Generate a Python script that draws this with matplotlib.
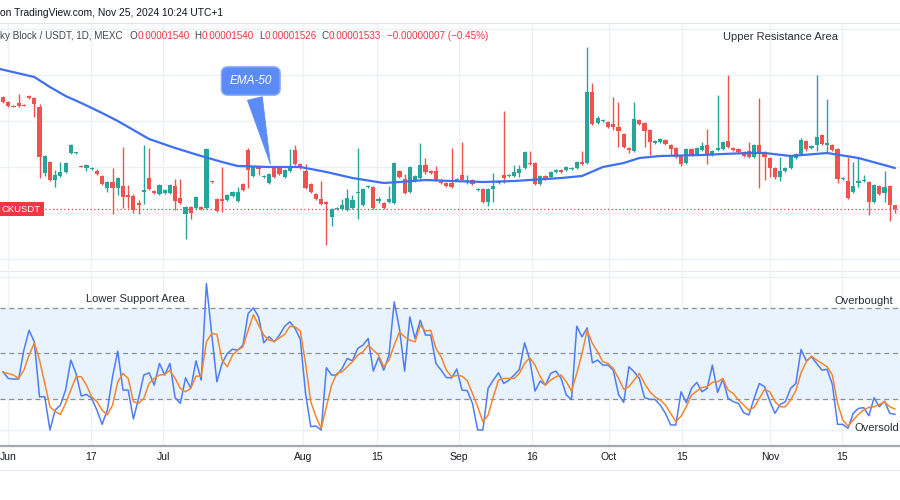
import matplotlib
matplotlib.use("Agg")
import matplotlib.pyplot as plt
import matplotlib.transforms as mtransforms
import numpy as np

plt.rcParams['font.family'] = ['Liberation Sans', 'DejaVu Sans']

# ---------------- data (prices in units of 1e-8 USDT) ----------------
PRICE_UNIT = 1e-8
opens = [1757, 1747, 1740, 1745, 1742, 1759, 1755, 1737, 1605, 1627,
         1591, 1599, 1607, 1645, 1644, 1619, 1615, 1613, 1609, 1599,
         1575, 1587, 1575, 1579, 1561, 1559, 1545, 1567, 1595, 1569,
         1563, 1565, 1565, 1579, 1555, 1523, 1537, 1535, 1537, 1535,
         1589, 1553, 1553, 1551, 1559, 1549, 1583, 1651, 1599, 1617,
         1597, 1585, 1615, 1615, 1597, 1609, 1651, 1623, 1609, 1583,
         1563, 1553, 1547, 1517, 1533, 1533, 1531, 1535, 1565, 1541,
         1577, 1577, 1549, 1545, 1547, 1545, 1609, 1593, 1567, 1589,
         1595, 1621, 1609, 1609, 1591, 1585, 1585, 1591, 1601, 1589,
         1591, 1571, 1573, 1547, 1573, 1585, 1601, 1599, 1599, 1605,
         1615, 1625, 1625, 1583, 1599, 1597, 1607, 1611, 1611, 1613,
         1615, 1627, 1625, 1767, 1705, 1709, 1707, 1703, 1697, 1683,
         1655, 1649, 1711, 1705, 1691, 1665, 1667, 1671, 1661, 1655,
         1639, 1625, 1653, 1643, 1651, 1661, 1641, 1651, 1653, 1669,
         1655, 1653, 1647, 1649, 1637, 1661, 1643, 1635, 1615, 1597,
         1609, 1615, 1635, 1643, 1669, 1655, 1661, 1681, 1661, 1661,
         1653, 1593, 1589, 1567, 1585, 1589, 1587, 1547, 1579, 1565,
         1579, 1540]
highs = [1759, 1749, 1741, 1763, 1743, 1761, 1757, 1743, 1641, 1629,
         1611, 1627, 1627, 1663, 1647, 1621, 1623, 1617, 1613, 1601,
         1589, 1615, 1597, 1657, 1581, 1563, 1551, 1661, 1655, 1571,
         1583, 1573, 1583, 1593, 1593, 1539, 1539, 1559, 1539, 1655,
         1590, 1555, 1617, 1563, 1569, 1577, 1585, 1655, 1619, 1619,
         1601, 1605, 1617, 1617, 1613, 1653, 1661, 1625, 1623, 1585,
         1565, 1589, 1549, 1535, 1537, 1553, 1573, 1561, 1655, 1575,
         1581, 1579, 1557, 1547, 1579, 1627, 1611, 1603, 1619, 1601,
         1665, 1635, 1611, 1619, 1593, 1587, 1655, 1595, 1667, 1601,
         1593, 1575, 1575, 1575, 1605, 1589, 1729, 1603, 1621, 1621,
         1649, 1649, 1627, 1601, 1601, 1609, 1613, 1613, 1619, 1617,
         1629, 1649, 1857, 1785, 1719, 1713, 1709, 1757, 1747, 1685,
         1657, 1747, 1713, 1707, 1693, 1671, 1675, 1673, 1663, 1657,
         1641, 1655, 1655, 1657, 1667, 1693, 1651, 1761, 1669, 1801,
         1657, 1655, 1649, 1667, 1663, 1755, 1649, 1637, 1617, 1637,
         1617, 1639, 1645, 1675, 1671, 1661, 1801, 1683, 1753, 1663,
         1655, 1597, 1637, 1627, 1637, 1601, 1589, 1583, 1581, 1609,
         1581, 1540]
lows = [1745, 1737, 1737, 1737, 1739, 1753, 1717, 1595, 1599, 1589,
        1577, 1597, 1605, 1643, 1643, 1616, 1609, 1611, 1601, 1581,
        1567, 1523, 1561, 1535, 1535, 1525, 1523, 1543, 1571, 1563,
        1561, 1563, 1563, 1531, 1543, 1473, 1513, 1533, 1531, 1533,
        1585, 1527, 1527, 1549, 1557, 1547, 1569, 1575, 1597, 1601,
        1595, 1583, 1595, 1601, 1595, 1607, 1621, 1613, 1573, 1565,
        1551, 1541, 1461, 1499, 1531, 1531, 1529, 1533, 1513, 1539,
        1575, 1533, 1545, 1533, 1545, 1543, 1595, 1563, 1565, 1587,
        1593, 1603, 1603, 1589, 1583, 1577, 1575, 1589, 1589, 1583,
        1581, 1569, 1545, 1539, 1547, 1583, 1585, 1597, 1597, 1597,
        1613, 1621, 1581, 1581, 1591, 1595, 1605, 1605, 1609, 1611,
        1613, 1621, 1623, 1701, 1703, 1707, 1695, 1691, 1657, 1655,
        1645, 1647, 1701, 1657, 1641, 1663, 1665, 1661, 1641, 1635,
        1619, 1623, 1639, 1641, 1649, 1623, 1639, 1649, 1651, 1655,
        1649, 1645, 1637, 1635, 1635, 1575, 1591, 1597, 1593, 1589,
        1607, 1613, 1633, 1641, 1649, 1653, 1649, 1661, 1647, 1649,
        1585, 1591, 1553, 1565, 1577, 1587, 1521, 1545, 1561, 1547,
        1509, 1526]
closes = [1747, 1739, 1738, 1739, 1740, 1755, 1743, 1637, 1639, 1591,
          1601, 1607, 1625, 1661, 1646, 1617, 1621, 1615, 1603, 1583,
          1587, 1575, 1595, 1557, 1557, 1531, 1541, 1571, 1573, 1565,
          1581, 1571, 1581, 1549, 1545, 1537, 1525, 1557, 1533, 1653,
          1587, 1529, 1549, 1561, 1567, 1567, 1571, 1611, 1617, 1613,
          1599, 1603, 1597, 1603, 1611, 1615, 1623, 1615, 1575, 1567,
          1553, 1543, 1543, 1533, 1535, 1541, 1555, 1551, 1567, 1573,
          1579, 1535, 1553, 1535, 1553, 1625, 1597, 1565, 1617, 1599,
          1621, 1607, 1605, 1591, 1585, 1579, 1577, 1593, 1591, 1591,
          1583, 1573, 1547, 1573, 1579, 1587, 1595, 1601, 1607, 1613,
          1647, 1623, 1583, 1599, 1593, 1607, 1611, 1607, 1617, 1615,
          1627, 1623, 1767, 1703, 1715, 1711, 1697, 1697, 1689, 1657,
          1651, 1713, 1703, 1689, 1667, 1669, 1673, 1663, 1653, 1637,
          1623, 1653, 1641, 1655, 1659, 1641, 1649, 1655, 1667, 1657,
          1651, 1647, 1639, 1637, 1661, 1643, 1637, 1615, 1597, 1609,
          1615, 1637, 1643, 1671, 1653, 1659, 1677, 1663, 1665, 1651,
          1593, 1595, 1555, 1579, 1589, 1591, 1547, 1581, 1563, 1577,
          1540, 1533]

ema_bars = [-0.6, 6, 9, 12, 15, 19, 22, 25, 28, 33, 38, 42, 45, 51, 57, 62, 67,
            73, 76, 81, 86, 92, 98, 107, 111, 115, 119, 122, 126, 134, 138,
            143, 146, 151, 158, 164, 171]
ema_vals = [1813, 1797, 1777, 1759, 1745, 1725, 1709, 1691, 1673, 1655, 1639,
            1627, 1619, 1617, 1617, 1607, 1595, 1585, 1587, 1591, 1589, 1587,
            1589, 1595, 1599, 1617, 1625, 1635, 1639, 1641, 1643, 1645, 1645,
            1639, 1645, 1635, 1615]

stoch_k = [38.0, 33.7, 33.3, 33.3, 52.2, 65.2, 57.6, 21.7, 21.7, 0.0,
           13.0, 16.3, 26.1, 45.7, 37.0, 22.2, 23.3, 20.7, 13.0, 3.7,
           13.0, 34.8, 51.5, 26.1, 26.1, 7.2, 20.7, 35.9, 37.4, 29.3,
           43.5, 35.9, 43.5, 21.1, 17.4, 34.1, 27.2, 45.2, 32.6, 95.7,
           63.0, 31.5, 43.5, 50.0, 52.8, 52.2, 55.4, 76.1, 79.8, 73.9,
           57.0, 60.9, 57.6, 62.0, 67.8, 70.7, 66.3, 59.3, 23.9, 2.2,
           2.6, 0.0, 40.7, 35.9, 35.9, 40.2, 46.7, 45.2, 53.3, 55.4,
           59.8, 38.5, 47.4, 39.1, 48.9, 83.7, 66.3, 38.5, 73.9, 59.8,
           71.7, 62.0, 62.0, 43.5, 39.1, 34.3, 34.0, 39.8, 26.1, 25.7,
           17.4, 0.0, 0.0, 27.2, 32.6, 37.4, 30.4, 32.6, 35.9, 39.6,
           57.0, 45.7, 25.4, 32.0, 29.3, 37.0, 38.5, 33.7, 22.8, 20.0,
           67.8, 60.9, 66.7, 43.9, 45.7, 42.4, 42.4, 39.1, 23.3, 18.0,
           41.3, 38.0, 33.7, 21.1, 20.0, 20.0, 16.3, 10.9, 3.3, 3.3,
           25.0, 17.8, 27.2, 31.1, 25.0, 27.2, 42.4, 24.6, 33.3, 20.7,
           18.5, 17.4, 11.3, 9.8, 20.7, 30.4, 28.3, 18.9, 10.9, 16.7,
           18.5, 27.2, 30.4, 52.6, 45.2, 47.8, 43.5, 39.1, 39.6, 29.8,
           3.7, 3.7, 1.1, 10.9, 14.1, 14.6, 9.3, 21.1, 15.2, 18.9,
           10.9, 10.2]
stoch_d = [37.6, 37.0, 35.9, 33.7, 39.1, 48.9, 57.0, 45.7, 30.4, 15.2,
           12.0, 10.2, 17.4, 26.1, 34.8, 34.8, 29.3, 21.7, 18.5, 13.0,
           9.8, 16.3, 31.5, 37.0, 33.7, 18.5, 17.4, 20.7, 30.4, 33.7,
           35.9, 36.3, 39.1, 33.7, 27.2, 25.0, 27.2, 35.2, 35.2, 57.6,
           63.0, 62.6, 45.7, 41.3, 48.9, 52.2, 54.3, 65.2, 75.4, 68.5,
           62.0, 58.7, 58.0, 60.2, 62.4, 67.8, 67.4, 64.8, 43.5, 18.5,
           8.7, 1.1, 15.2, 29.3, 37.0, 38.0, 41.3, 44.6, 48.9, 51.1,
           55.4, 52.2, 48.9, 41.3, 45.7, 55.4, 64.1, 60.9, 58.7, 57.6,
           68.5, 64.6, 65.2, 53.3, 47.8, 39.1, 34.8, 35.7, 35.2, 32.2,
           23.9, 15.2, 5.4, 9.8, 21.7, 32.6, 33.7, 33.7, 33.7, 37.0,
           43.5, 47.2, 42.4, 34.8, 29.3, 32.6, 34.8, 35.9, 31.5, 25.4,
           37.0, 50.0, 65.2, 56.5, 51.1, 44.6, 43.5, 40.2, 33.7, 26.7,
           28.3, 32.6, 37.0, 30.4, 25.0, 21.7, 19.6, 16.3, 10.9, 5.4,
           9.1, 15.2, 22.8, 25.4, 27.8, 28.3, 31.1, 31.5, 33.7, 26.1,
           23.9, 19.6, 16.3, 13.0, 14.8, 20.7, 26.5, 25.0, 18.5, 15.2,
           15.2, 19.6, 25.7, 37.4, 44.6, 48.3, 45.7, 43.5, 41.3, 35.9,
           17.4, 6.5, 2.6, 6.5, 10.2, 13.0, 14.8, 15.2, 16.7, 18.5,
           15.2, 13.7]

tick_labels = ["Jun", "17", "Jul", "Aug", "15", "Sep", "16", "Oct", "15", "Nov", "15"]
tick_bars = [1.0, 16.9, 30.7, 57.6, 71.7, 87.4, 101.4, 116.2, 130.2, 147.1, 160.9]
price_grid = [1433, 1525, 1617, 1709, 1801, 1893]
stoch_levels = [80, 50, 20]

# ---------------- figure ----------------
W, H = 900, 500
fig = plt.figure(figsize=(9, 5), dpi=100)
fig.patch.set_facecolor('white')
ax1 = fig.add_axes([0, 230 / H, 1, 247 / H])
ax2 = fig.add_axes([0, 54 / H, 1, 175 / H])

n = len(opens)
bars = np.arange(n)
o = np.array(opens) * PRICE_UNIT
hh = np.array(highs) * PRICE_UNIT
ll = np.array(lows) * PRICE_UNIT
c = np.array(closes) * PRICE_UNIT

UP, DN = '#26a69a', '#ef5350'
cols = [UP if cc >= oo else DN for oo, cc in zip(o, c)]
grid_col = '#edf0f5'

for ax in (ax1, ax2):
    ax.set_xlim(-0.575, 171.97)
    for s in ax.spines.values():
        s.set_visible(False)
    ax.set_xticks(tick_bars)
    ax.grid(True, color=grid_col, lw=1, zorder=0)
    ax.set_axisbelow(True)
    ax.tick_params(length=0)
    ax.set_yticklabels([])

# price panel
ax1.set_ylim(1411 * PRICE_UNIT, 1905 * PRICE_UNIT)
ax1.set_yticks(np.array(price_grid) * PRICE_UNIT)
ax1.set_xticklabels([])
ax1.vlines(bars, ll, hh, colors=cols, lw=1.0, zorder=3)
body_bottom = np.minimum(o, c)
body_h = np.maximum(np.abs(c - o), 1.6 * PRICE_UNIT)
ax1.bar(bars, body_h, bottom=body_bottom, width=0.8, color=cols, lw=0, zorder=4)
ax1.plot(ema_bars, np.array(ema_vals) * PRICE_UNIT, color='#3f6ff2', lw=1.6,
         zorder=5, solid_capstyle='round')
ax1.axhline(closes[-1] * PRICE_UNIT, color='#f23645', lw=0.9, ls=(0, (1, 2)), zorder=2)

trans = mtransforms.blended_transform_factory(ax1.transAxes, ax1.transData)
ax1.text(2.0 / W, closes[-1] * PRICE_UNIT, "CKUSDT", transform=trans, ha='left',
         va='center', color='white', fontsize=6.8, zorder=10,
         bbox=dict(boxstyle='square,pad=0.3', fc='#f23645', ec='none'))

ax1.annotate("EMA-50", xy=(51.4, 1617 * PRICE_UNIT), xytext=(47.5, 1789 * PRICE_UNIT),
             ha='center', va='center', color='white', fontsize=8.5, fontstyle='italic',
             zorder=10,
             bbox=dict(boxstyle='round,pad=0.7,rounding_size=0.55', fc='#5b8cf5',
                       ec='#93b4fa', lw=1),
             arrowprops=dict(arrowstyle='wedge,tail_width=1.3,shrink_factor=0.5',
                             fc='#5b8cf5', ec='#5b8cf5', lw=0.5))

ax1.text(149.0, 1877 * PRICE_UNIT, "Upper Resistance Area", ha='center', va='center',
         fontsize=8, color='#2a2e39', zorder=10)

# stochastic RSI panel
ax2.set_ylim(-10.46, 103.9)
ax2.set_yticks([0, 20, 40, 60, 80, 100])
ax2.axhspan(20, 80, color='#e8f3fd', zorder=1, lw=0)
for lv in stoch_levels:
    ax2.axhline(lv, color='#8c8f99', lw=0.9, ls=(0, (4, 3)), zorder=2)
ax2.plot(bars, stoch_k, color='#4d7cf6', lw=1.1, zorder=4)
ax2.plot(bars, stoch_d, color='#f5862e', lw=1.1, zorder=5)
ax2.set_xticklabels(tick_labels)
ax2.tick_params(axis='x', pad=4, labelsize=7.5, labelcolor='#131722')
ax2.spines['bottom'].set_visible(True)
ax2.spines['bottom'].set_color('#a5a8b0')
ax2.spines['bottom'].set_linewidth(1.6)

ax2.text(25.3, 85.5, "Lower Support Area", ha='center', va='center', fontsize=8,
         color='#2a2e39', zorder=10)
ax2.text(165.1, 84.2, "Overbought", ha='center', va='center', fontsize=8,
         color='#2a2e39', zorder=10)
ax2.text(163.3, 1.3, "Oversold", ha='left', va='center', fontsize=8,
         color='#2a2e39', zorder=10)

# frame lines
fig.add_artist(plt.Line2D([0, 1], [1 - 22.5 / H, 1 - 22.5 / H], color='#e0e3eb', lw=0.8))
fig.add_artist(plt.Line2D([0, 1], [1 - 270.5 / H, 1 - 270.5 / H], color='#e6e9ef', lw=0.8))
fig.add_artist(plt.Line2D([0, 1], [1 - 469.5 / H, 1 - 469.5 / H], color='#e6e9ef', lw=0.8))

# header texts
fig.text(0, 1 - 13 / H, "on TradingView.com, Nov 25, 2024 10:24 UTC+1", ha='left',
         va='center', fontsize=7.4, color='#131722')

RED = '#f23645'
DARK = '#434651'
def fmt(v):
    return f"{v * PRICE_UNIT:.8f}"
chg = closes[-1] - opens[-1]
pct = chg / opens[-1] * 100
pieces = [("ky Block / USDT, 1D, MEXC", DARK, 0),
          ("O", DARK, 7), (fmt(opens[-1]), RED, 0),
          ("H", DARK, 5), (fmt(highs[-1]), RED, 0),
          ("L", DARK, 5), (fmt(lows[-1]), RED, 0),
          ("C", DARK, 5), (fmt(closes[-1]), RED, 0),
          (f"\u2212{fmt(abs(chg))} (\u2212{abs(pct):.2f}%)", RED, 6)]
renderer = fig.canvas.get_renderer()
x = 0.0
for s, col, gap in pieces:
    x += gap
    t = fig.text(x / W, 1 - 36 / H, s, color=col, fontsize=7.1, ha='left', va='center')
    x += t.get_window_extent(renderer=renderer).width

fig.savefig("out.png", dpi=100)
